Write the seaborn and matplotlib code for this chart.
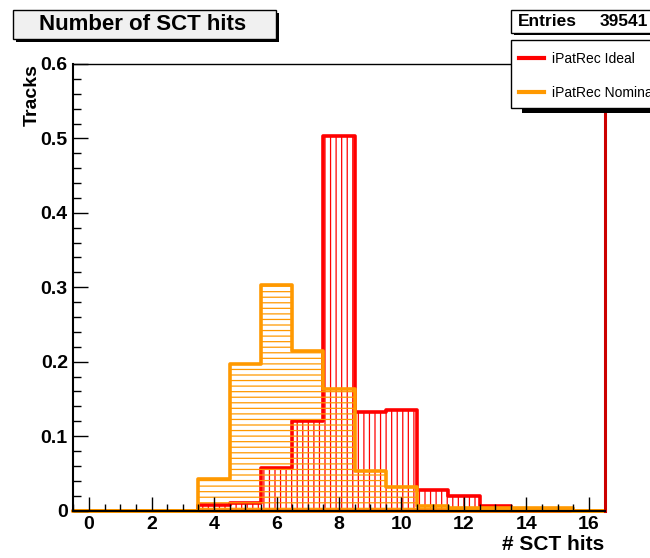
import numpy as np
import pandas as pd
import seaborn as sns
import matplotlib.pyplot as plt
from matplotlib.patches import Rectangle
from matplotlib.lines import Line2D
from matplotlib.ticker import MultipleLocator, FuncFormatter

# number of SCT hits per track, one bin per integer
hits = np.arange(0, 17)
ideal = [0, 0, 0, 0, 0.007, 0.010, 0.057, 0.120, 0.503, 0.132, 0.135,
         0.027, 0.020, 0.006, 0, 0, 0]
nominal = [0, 0, 0, 0, 0.043, 0.197, 0.303, 0.215, 0.163, 0.053, 0.032,
           0.006, 0.004, 0.003, 0.003, 0.003, 0]
labels = ["iPatRec Ideal", "iPatRec Nominal"]
colors = ["#ff0000", "#ff9900"]
entries = 39541

df = pd.DataFrame({"hits": hits, "ideal": ideal, "nominal": nominal})

plt.rcParams["font.family"] = ["Liberation Sans", "DejaVu Sans"]
plt.rcParams["hatch.linewidth"] = 0.9

W, H = 650, 558
fig = plt.figure(figsize=(W / 100, H / 100), dpi=100)
ax = fig.add_axes([73.4 / W, 1 - 510.5 / H, (604.6 - 73.4) / W, (510.5 - 64) / H])


def px_rect(x0, y0, x1, y1, **kw):
    # rectangle given in pixel coords (origin top-left)
    r = Rectangle((x0 / W, 1 - y1 / H), (x1 - x0) / W, (y1 - y0) / H,
                  transform=fig.transFigure, clip_on=False, **kw)
    fig.add_artist(r)
    return r


sns.histplot(data=df, x="hits", weights="ideal", discrete=True, element="step",
             fill=True, color=colors[0], facecolor="none",
             edgecolor=colors[0], hatch="|||", linewidth=2.6, ax=ax)
sns.histplot(data=df, x="hits", weights="nominal", discrete=True, element="step",
             fill=True, color=colors[1], facecolor="none",
             edgecolor=colors[1], hatch="---", linewidth=2.6, ax=ax)
for coll in ax.collections:
    coll.set_clip_on(False)

ax.set_xlim(-0.5, 16.5)
ax.set_ylim(0, 0.6)

ax.xaxis.set_major_locator(MultipleLocator(2))
ax.xaxis.set_minor_locator(MultipleLocator(0.5))
ax.yaxis.set_major_locator(MultipleLocator(0.1))
ax.yaxis.set_minor_locator(MultipleLocator(0.02))
ax.yaxis.set_major_formatter(FuncFormatter(lambda v, p: f"{v:g}"))
ax.tick_params(axis="both", which="both", direction="in", width=1.0,
               labelsize=14)
ax.tick_params(axis="x", which="major", length=10, pad=4)
ax.tick_params(axis="x", which="minor", length=5)
ax.tick_params(axis="y", which="major", length=11, pad=4)
ax.tick_params(axis="y", which="minor", length=5.5)
for lab in ax.get_xticklabels() + ax.get_yticklabels():
    lab.set_fontweight("bold")

ax.spines["left"].set_linewidth(1.5)
ax.spines["bottom"].set_linewidth(1.5)
ax.spines["top"].set_linewidth(1.0)
ax.spines["right"].set_color("#cc0000")
ax.spines["right"].set_linewidth(2.2)

ax.set_xlabel("# SCT hits", loc="right", fontsize=15, fontweight="bold")
ax.xaxis.set_label_coords(1.0, -0.055)
ax.set_ylabel("Tracks", loc="top", fontsize=14, fontweight="bold")
ax.yaxis.set_label_coords(-0.062, 1.0)

# title box with shadow
px_rect(16, 13, 279, 42, facecolor="black", edgecolor="none", zorder=5)
px_rect(13, 10, 276, 39, facecolor="#f0f0f0", edgecolor="black",
        linewidth=1.0, zorder=6)
fig.text(143 / W, 1 - 25 / H, "Number of SCT hits", ha="center",
         va="center", fontsize=16, fontweight="bold", zorder=7)

# stats box
px_rect(514, 13, 700, 35, facecolor="black", edgecolor="none", zorder=5)
px_rect(511, 10, 700, 33, facecolor="white", edgecolor="black",
        linewidth=1.0, zorder=6)
fig.text(518 / W, 1 - 22 / H, "Entries", ha="left", va="center",
         fontsize=12.5, fontweight="bold", zorder=7)
fig.text(648 / W, 1 - 22 / H, f"{entries}", ha="right", va="center",
         fontsize=12.5, fontweight="bold", zorder=7)

# legend box (runs past the right edge, as in the original canvas)
px_rect(522, 44, 700, 113, facecolor="black", edgecolor="none", zorder=5)
px_rect(511, 40, 700, 108, facecolor="white", edgecolor="black",
        linewidth=1.0, zorder=6)
handles = [Line2D([], [], color=c, linewidth=3) for c in colors]
leg = fig.legend(handles, labels, loc="upper left",
                 bbox_to_anchor=(513 / W, 1 - 46 / H), frameon=False,
                 fontsize=10, handlelength=1.8, handletextpad=0.6,
                 labelspacing=1.45, borderaxespad=0)
leg.set_zorder(8)

fig.savefig("out.png", dpi=100)
